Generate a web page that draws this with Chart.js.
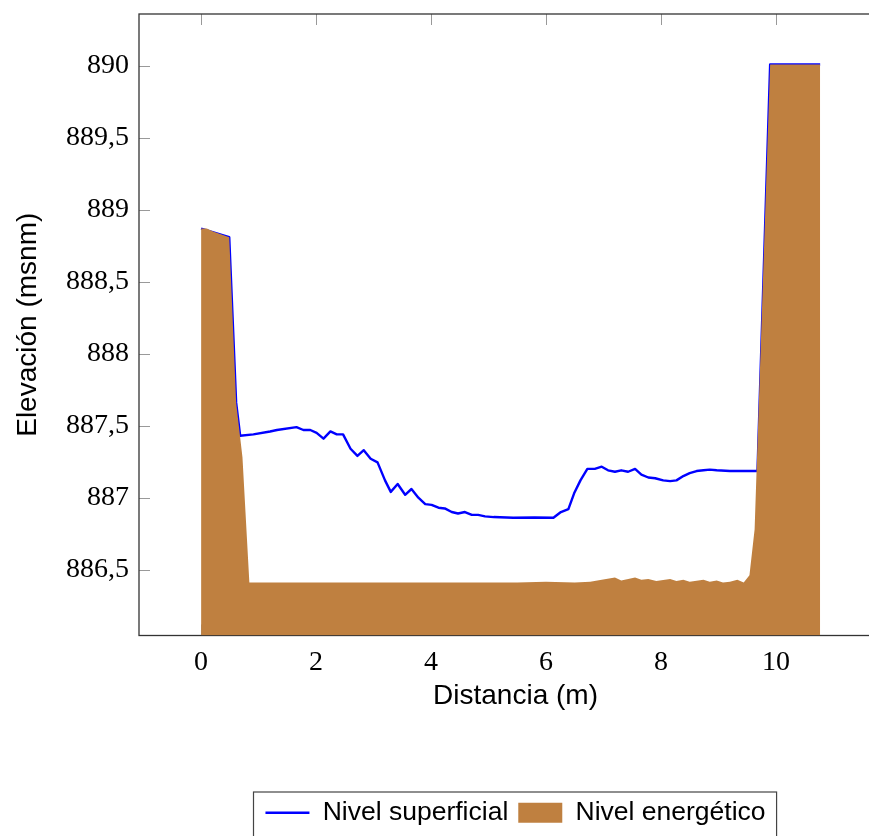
<!DOCTYPE html>
<html>
<head>
<meta charset="utf-8">
<script src="https://cdn.jsdelivr.net/npm/chart.js@4.4.1/dist/chart.umd.min.js"></script>
<style>
  html, body { margin: 0; padding: 0; background: #fff; overflow: hidden; }
  #wrap { width: 869px; height: 836px; overflow: hidden; }
</style>
</head>
<body>
<div id="wrap"><canvas id="perfil" width="900" height="836"></canvas></div>
<script>
// Nivel superficial (linea azul)
const distSup = [0, 0.49, 0.61, 0.68, 0.91, 1.20, 1.32, 1.66, 1.78, 1.90, 2.01, 2.13, 2.25, 2.36, 2.47,
  2.60, 2.72, 2.83, 2.95, 3.07, 3.20, 3.30, 3.42, 3.55, 3.66, 3.78, 3.90, 4.01, 4.13, 4.24, 4.36,
  4.47, 4.59, 4.71, 4.82, 4.94, 5.09, 5.43, 5.80, 6.13, 6.26, 6.39, 6.49, 6.60, 6.72, 6.85, 6.97,
  7.08, 7.20, 7.31, 7.43, 7.55, 7.66, 7.78, 7.90, 8.04, 8.16, 8.27, 8.39, 8.50, 8.62, 8.74, 8.85,
  8.97, 9.20, 9.68, 9.90, 10.77];
const nivelSup = [888.87, 888.81, 887.66, 887.43, 887.44, 887.46, 887.47, 887.49, 887.47, 887.47, 887.45, 887.41, 887.46, 887.44, 887.44,
  887.34, 887.29, 887.33, 887.27, 887.245, 887.12, 887.04, 887.095, 887.02, 887.06, 887.00, 886.955, 886.95, 886.93, 886.925, 886.90,
  886.89, 886.90, 886.88, 886.88, 886.87, 886.865, 886.86, 886.862, 886.86, 886.90, 886.92, 887.03, 887.12, 887.20, 887.20, 887.215,
  887.19, 887.18, 887.19, 887.18, 887.20, 887.16, 887.14, 887.135, 887.12, 887.115, 887.12, 887.15, 887.17, 887.185, 887.19, 887.195,
  887.19, 887.185, 887.185, 890.01, 890.01];

// Nivel energetico (area marron)
const distEne = [0, 0.10, 0.21, 0.49, 0.61, 0.72, 0.84, 5.5, 6.0, 6.5, 6.77, 6.97, 7.20, 7.31, 7.55, 7.66,
  7.78, 7.92, 8.16, 8.27, 8.39, 8.50, 8.74, 8.85, 8.97, 9.08, 9.20, 9.33, 9.44, 9.54, 9.63, 9.90, 10.77];
const nivelEne = [888.87, 888.87, 888.85, 888.81, 887.66, 887.28, 886.41, 886.41, 886.415, 886.41, 886.415, 886.43, 886.445, 886.425, 886.445, 886.43,
  886.435, 886.42, 886.435, 886.42, 886.43, 886.415, 886.43, 886.415, 886.425, 886.41, 886.415, 886.43, 886.41, 886.46, 886.78, 890.01, 890.01];

const xTicks = [0, 2, 4, 6, 8, 10];
const xTickLabels = ['0', '2', '4', '6', '8', '10'];
const yTicks = [886.5, 887, 887.5, 888, 888.5, 889, 889.5, 890];
const yTickLabels = ['886,5', '887', '887,5', '888', '888,5', '889', '889,5', '890'];

const AZUL = '#0000ff';
const MARRON = '#bf8040';

const toPoints = (xs, ys) => xs.map((x, i) => ({ x: x, y: ys[i] }));

// sin margen extra por las etiquetas de los extremos
const sinMargen = s => { s.paddingTop = 0; s.paddingBottom = 0; s.paddingLeft = 0; s.paddingRight = 0; };

// marco y ticks hacia adentro, debajo de las series
const marco = {
  id: 'marco',
  beforeDatasetsDraw(chart) {
    const { ctx, chartArea: a, scales: { x, y } } = chart;
    ctx.save();
    ctx.strokeStyle = '#999';
    ctx.lineWidth = 1;
    ctx.beginPath();
    xTicks.forEach(v => {
      const px = Math.round(x.getPixelForValue(v)) + 0.5;
      ctx.moveTo(px, a.top); ctx.lineTo(px, a.top + 11);
      ctx.moveTo(px, a.bottom); ctx.lineTo(px, a.bottom - 11);
    });
    yTicks.forEach(v => {
      const py = Math.round(y.getPixelForValue(v)) + 0.5;
      ctx.moveTo(a.left, py); ctx.lineTo(a.left + 11, py);
      ctx.moveTo(a.right, py); ctx.lineTo(a.right - 11, py);
    });
    ctx.stroke();
    ctx.strokeStyle = '#333';
    ctx.lineWidth = 1.3;
    ctx.strokeRect(a.left, a.top, a.right - a.left, a.bottom - a.top);
    ctx.restore();
  }
};

// recuadro de la leyenda
const cajaLeyenda = {
  id: 'cajaLeyenda',
  afterDraw(chart) {
    const lg = chart.legend;
    const hb = lg.legendHitBoxes;
    if (!hb || !hb.length) return;
    const last = hb[hb.length - 1];
    const left = hb[0].left - 12;
    const right = last.left + last.width + 11;
    const ctx = chart.ctx;
    ctx.save();
    ctx.strokeStyle = '#444';
    ctx.lineWidth = 1.2;
    ctx.strokeRect(Math.round(left) + 0.5, lg.top + 2.5, right - left, lg.bottom - lg.top + 4);
    ctx.restore();
  }
};

new Chart(document.getElementById('perfil'), {
  type: 'line',
  data: {
    datasets: [
      {
        label: 'Nivel superficial',
        data: toPoints(distSup, nivelSup),
        borderColor: AZUL,
        borderWidth: 2.4,
        pointRadius: 0,
        fill: false,
        tension: 0,
        borderJoinStyle: 'round',
        order: 2
      },
      {
        label: 'Nivel energético',
        data: toPoints(distEne, nivelEne),
        borderColor: MARRON,
        backgroundColor: MARRON,
        borderWidth: 0,
        pointRadius: 0,
        fill: 'start',
        tension: 0,
        order: 1
      }
    ]
  },
  options: {
    responsive: false,
    animation: false,
    layout: { padding: { top: 14, right: 8, left: 0, bottom: 0 } },
    plugins: {
      tooltip: { enabled: false },
      legend: {
        position: 'bottom',
        fullSize: false,
        labels: {
          color: '#000',
          font: { family: 'Liberation Sans', size: 26.5 },
          usePointStyle: true,
          pointStyleWidth: 44,
          boxHeight: 20,
          padding: 10,
          generateLabels: () => [
            { text: 'Nivel superficial', pointStyle: 'line', strokeStyle: AZUL, fillStyle: AZUL, lineWidth: 2.5, datasetIndex: 0, hidden: false, fontColor: '#000' },
            { text: 'Nivel energético', pointStyle: 'rect', strokeStyle: MARRON, fillStyle: MARRON, lineWidth: 0, datasetIndex: 1, hidden: false, fontColor: '#000' }
          ]
        }
      }
    },
    scales: {
      x: {
        type: 'linear',
        min: -1.08,
        max: 12.02,
        afterBuildTicks: s => { s.ticks = xTicks.map(v => ({ value: v })); },
        afterFit: s => { s.height = 154; sinMargen(s); },
        ticks: {
          callback: (v, i) => xTickLabels[i],
          color: '#000',
          font: { family: 'Liberation Serif', size: 28 },
          padding: 10,
          maxRotation: 0,
          autoSkip: false
        },
        grid: { display: false, drawTicks: false },
        border: { display: false },
        title: {
          display: true,
          text: 'Distancia (m)',
          color: '#000',
          font: { family: 'Liberation Sans', size: 28 },
          padding: { top: 0, bottom: 76 }
        }
      },
      y: {
        type: 'linear',
        min: 886.042,
        max: 890.361,
        afterBuildTicks: s => { s.ticks = yTicks.map(v => ({ value: v })); },
        afterFit: s => { s.width = 139; sinMargen(s); },
        ticks: {
          callback: (v, i) => yTickLabels[i],
          color: '#000',
          font: { family: 'Liberation Serif', size: 28 },
          padding: 10
        },
        grid: { display: false, drawTicks: false },
        border: { display: false },
        title: {
          display: true,
          text: 'Elevación (msnm)',
          color: '#000',
          font: { family: 'Liberation Sans', size: 28 },
          padding: { top: 11, bottom: 0 }
        }
      }
    }
  },
  plugins: [marco, cajaLeyenda]
});
</script>
</body>
</html>
